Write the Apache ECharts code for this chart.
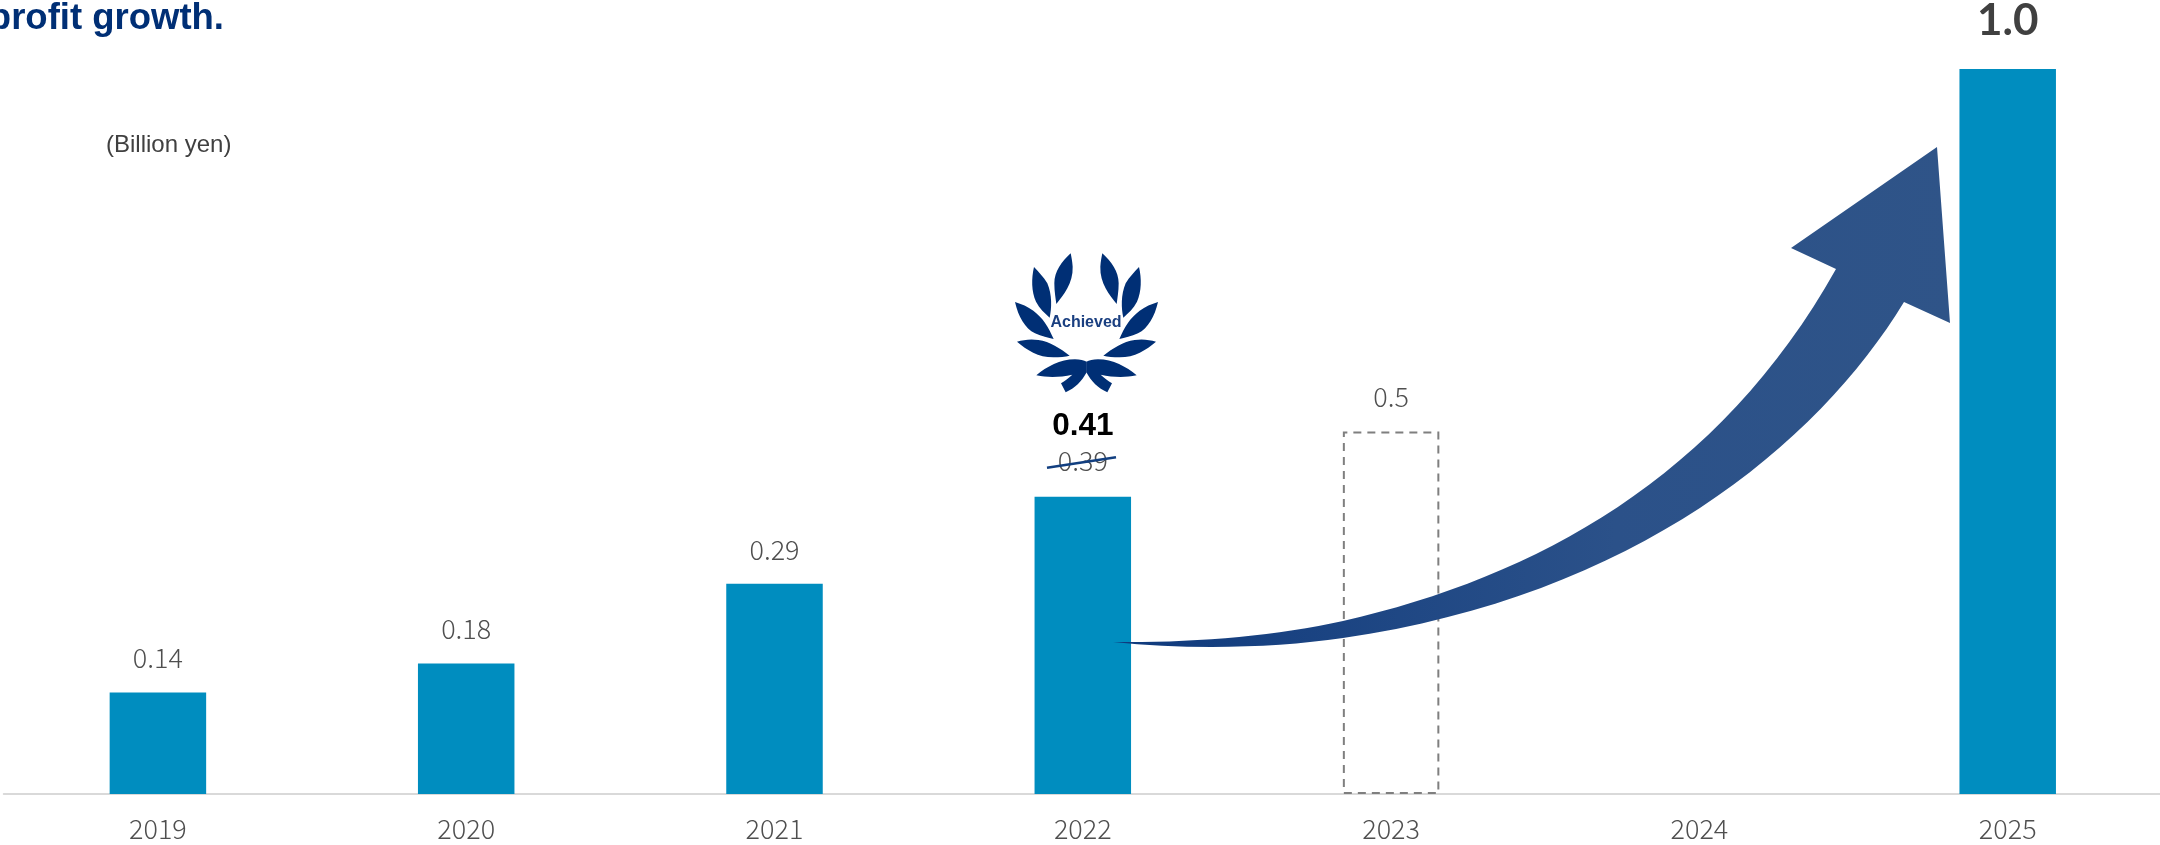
<!DOCTYPE html>
<html>
<head>
<meta charset="utf-8">
<style>html,body{margin:0;padding:0;background:#fff}#chart{width:2160px;height:845px}</style>
<script src="https://cdn.jsdelivr.net/npm/echarts@6/dist/echarts.min.js"></script>
</head>
<body>
<div id="chart"></div>
<script>
// Operating profit path in billion yen
const years = ['2019', '2020', '2021', '2022', '2023', '2024', '2025'];
const results = [0.14, 0.18, 0.29, 0.41, null, null, 1.0];
const planned = [null, null, null, null, 0.5, null, null];
const supersededTarget = '0.39';
const headline = 'profit growth.';
const unitNote = '(Billion yen)';
const badgeText = 'Achieved';

const NAVY = '#002f75';
const BAR = '#008dbf';
const GREY = '#4f4f4f';
const NUM_FONT = '"Noto Sans CJK JP","Noto Sans",sans-serif';

// Left half of the laurel, drawn on a 3x grid and mirrored for the right half
const laurel =
  'M332,100 C305,125 283,155 283,190 C283,215 287,235 289,252 C310,225 340,190 338,140 C337,125 334,110 332,100Z' +
  'M222,141 C214,175 214,215 228,245 C238,265 255,280 269,293 C275,265 277,225 262,190 C250,170 235,155 222,141Z' +
  'M165,246 C175,290 195,325 225,340 C245,350 265,353 281,357 C265,320 250,295 220,272 C203,260 185,252 165,246Z' +
  'M171,365 C200,390 235,412 280,412 C300,412 315,410 329,407 C300,385 270,365 235,360 C210,356 190,360 171,365Z' +
  'M229,466 C265,473 300,472 337,464 C325,475 315,483 303,490 L317,517 C345,505 365,485 380,457 L380,425 C372,422 360,418 345,418 C300,418 260,440 229,466Z';

// Growth arrow sweeping from the 2022 result towards the 2025 goal
const arrow =
  'M1113,642 C1190,643 1275,636.4 1343,621 C1536,577 1719,478 1836,269 ' +
  'L1791,248 L1937,147 L1950,323 L1904,302 ' +
  'C1817,445 1634,596 1343,638 C1275,648 1190,650 1113,642Z';

echarts.graphic.registerShape('laurelHalf', echarts.graphic.extendPath(laurel, {}));
echarts.graphic.registerShape('growthArrow', echarts.graphic.extendPath(arrow, {}));

const chart = echarts.init(document.getElementById('chart'), null, { renderer: 'canvas' });

const valueLabel = {
  show: true, position: 'top', distance: 21,
  fontFamily: NUM_FONT, fontWeight: 300, fontSize: 27, color: GREY,
  formatter: p => p.value.toFixed(2)
};

chart.setOption({
  animation: false,
  backgroundColor: '#fff',
  grid: { left: 3.75, width: 2158.1, top: 69, bottom: 51, containLabel: false, outerBoundsMode: 'none' },
  xAxis: {
    type: 'category', data: years,
    axisTick: { show: false },
    axisLine: { lineStyle: { color: '#d9d9d9', width: 2 } },
    axisLabel: { fontFamily: NUM_FONT, fontWeight: 300, fontSize: 27, color: GREY, margin: 21 }
  },
  yAxis: { type: 'value', min: 0, max: 1, show: false, splitLine: { show: false } },
  series: [
    {
      type: 'bar', data: results.map((v, i) => {
        if (v === null) return null;
        if (years[i] === '2022') {
          return {
            value: v,
            label: {
              show: true, position: 'top', distance: 19,
              formatter: () => `{a|${v.toFixed(2)}}\n{b|${supersededTarget}}`,
              rich: {
                a: { fontFamily: '"Liberation Sans",sans-serif', fontWeight: 'bold', fontSize: 31.5, color: '#000', lineHeight: 34 },
                b: { fontFamily: NUM_FONT, fontWeight: 300, fontSize: 27, color: GREY, lineHeight: 34 }
              }
            }
          };
        }
        if (years[i] === '2025') {
          return {
            value: v,
            label: {
              show: true, position: 'top', distance: 26,
              formatter: () => v.toFixed(1),
              fontFamily: 'Lato,sans-serif', fontWeight: 'bold', fontSize: 44, color: '#404040'
            }
          };
        }
        return v;
      }),
      barWidth: 96.5, barGap: '-100%',
      itemStyle: { color: BAR }, label: valueLabel
    },
    {
      type: 'bar', data: planned, barWidth: 96.5, barGap: '-100%',
      itemStyle: { color: 'transparent', borderColor: '#7f7f7f', borderWidth: 2, borderType: [8, 6] },
      label: Object.assign({}, valueLabel, { formatter: p => String(p.value) })
    }
  ],
  graphic: [
    { type: 'text', x: 224, y: 0, z: 10, style: { text: headline, align: 'right', fontFamily: '"Liberation Sans",sans-serif', fontWeight: 'bold', fontSize: 36.5, fill: NAVY } },
    { type: 'text', x: 106, y: 133, z: 10, style: { text: unitNote, fontFamily: '"Liberation Sans",sans-serif', fontSize: 24, fill: '#404040' } },
    {
      type: 'growthArrow', z: 20,
      style: { fill: { type: 'linear', x: 0, y: 0, x2: 1, y2: 0, colorStops: [{ offset: 0, color: '#0f3a7d' }, { offset: 0.6, color: '#2b5189' }, { offset: 1, color: '#2f5488' }] } }
    },
    { type: 'laurelHalf', z: 20, x: 960, y: 220, scaleX: 1 / 3, scaleY: 1 / 3, style: { fill: NAVY } },
    { type: 'laurelHalf', z: 20, x: 1213, y: 220, scaleX: -1 / 3, scaleY: 1 / 3, style: { fill: NAVY } },
    { type: 'text', x: 1086, y: 323, z: 20, style: { text: badgeText, align: 'center', verticalAlign: 'middle', fontFamily: '"Liberation Sans",sans-serif', fontWeight: 'bold', fontSize: 16, fill: '#1a3f80' } },
    // Strike-through over the superseded target
    { type: 'line', z: 20, shape: { x1: 1047, y1: 467.7, x2: 1116, y2: 457.3 }, style: { stroke: '#123f80', lineWidth: 2.5 } }
  ]
});
</script>
</body>
</html>
